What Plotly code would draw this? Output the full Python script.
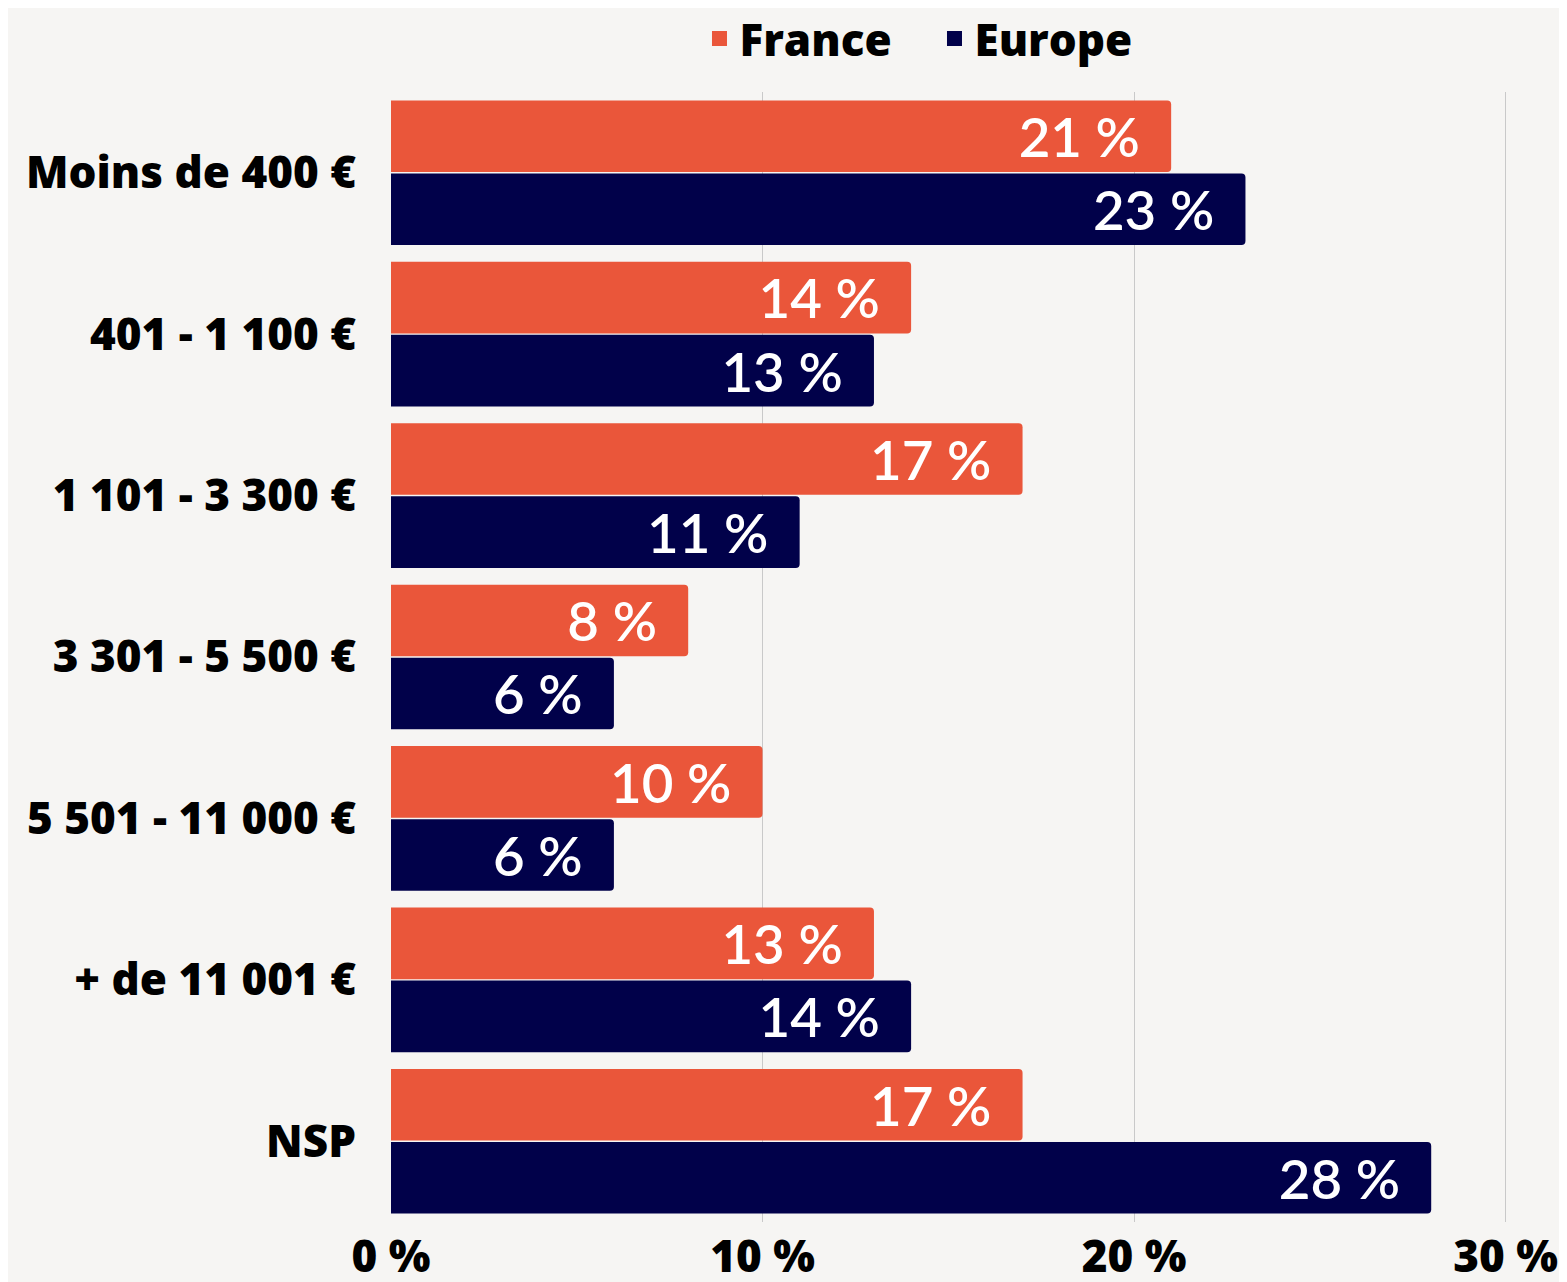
import plotly.graph_objects as go

categories = ["Moins de 400 €", "401 - 1 100 €", "1 101 - 3 300 €", "3 301 - 5 500 €",
              "5 501 - 11 000 €", "+ de 11 001 €", "NSP"]
france = [21, 14, 17, 8, 10, 13, 17]
europe = [23, 13, 11, 6, 6, 14, 28]
x_ticks = [0, 10, 20, 30]
x_tick_labels = ["0 %", "10 %", "20 %", "30 %"]

ORANGE = "#EA563A"
NAVY = "#01014A"
BG = "#F6F5F3"
pad = "\u00a0\u00a0"
LABEL_FONT = dict(family="Open Sans", size=44, color="black", weight=800)

fig = go.Figure()
for name, vals, col in [("France", france, ORANGE), ("Europe", europe, NAVY)]:
    fig.add_trace(go.Bar(
        name=name, y=categories, x=vals, orientation="h", marker_color=col,
        marker_line_width=0, showlegend=False,
        text=[f"{v} %{pad}" for v in vals], textposition="inside",
        insidetextanchor="end",
        textfont=dict(family="Lato", size=55, color="white", weight=600),
        constraintext="none",
    ))
    fig.add_trace(go.Scatter(
        name=name, x=[None], y=[None], mode="markers",
        marker=dict(symbol="square", size=15, color=col),
        showlegend=True, hoverinfo="skip",
    ))

fig.update_layout(
    width=1559, height=1274,
    margin=dict(l=383, r=60, t=84, b=60, autoexpand=False),
    paper_bgcolor=BG, plot_bgcolor=BG,
    barmode="group", bargap=0.095, bargroupgap=0.02, barcornerradius=4,
    legend=dict(orientation="h", x=0.487, xanchor="center", y=1.047, yanchor="middle",
                font=LABEL_FONT, itemwidth=30, entrywidth=190,
                bgcolor="rgba(0,0,0,0)"),
    xaxis=dict(range=[0, 30.04], tickvals=x_ticks, ticktext=x_tick_labels,
               showgrid=True, gridcolor="#C9C9C9", gridwidth=1, zeroline=False,
               tickfont=LABEL_FONT, ticklabelstandoff=5, showline=False,
               automargin=False),
    yaxis=dict(autorange="reversed", showgrid=False,
               tickfont=LABEL_FONT, ticklabelstandoff=34, showline=False,
               automargin=False),
)
fig.write_html("out.html")
